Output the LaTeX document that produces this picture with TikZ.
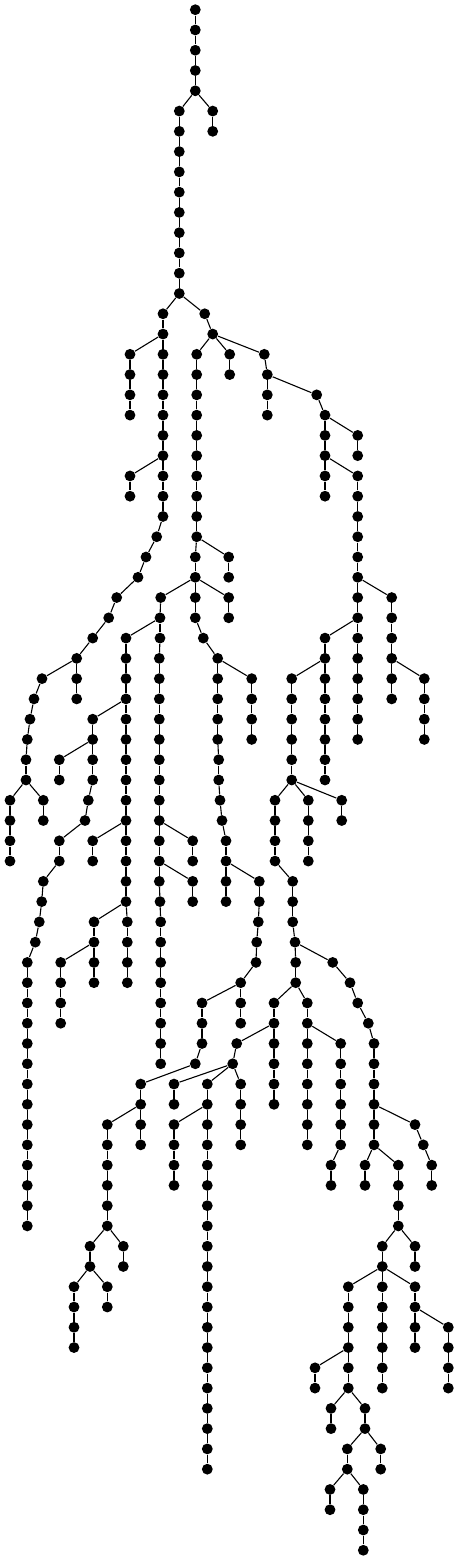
\documentclass[tikz,border=0pt]{standalone}
\usepackage{tikz}

\begin{document}
\begin{tikzpicture}[x=0.5pt,y=-10.135pt,
  vertex/.style={circle,fill=black,draw=none,inner sep=0pt,minimum size=5.4pt},
  link/.style={line width=0.55pt,black}]

  \useasboundingbox (0,-0.4786) rectangle (459,76.53);

  \foreach \lv/\row in {
    0/{195.3/0},
    1/{195.3/1},
    2/{195.3/1},
    3/{195.3/1},
    4/{195.3/1},
    5/{179.3/1,212.7/1},
    6/{179.3/1,212.7/2},
    7/{179.3/1},
    8/{179.3/1},
    9/{179.3/1},
    10/{179.3/1},
    11/{179.3/1},
    12/{179.3/1},
    13/{179.3/1},
    14/{179.3/1},
    15/{163/1,204.7/1},
    16/{163/1,212.7/2},
    17/{130/1,163/1,196.7/2,229.7/2,264.3/2},
    18/{130/1,163/2,196.7/3,229.7/4,267.3/5},
    19/{130/1,163/2,196.7/3,267.3/5,316.7/5},
    20/{130/1,163/2,196.7/3,267.3/4,325/5},
    21/{163/2,196.7/3,325/5,357.7/5},
    22/{163/1,196.7/2,325/3,357.7/4},
    23/{130/1,163/1,196.7/2,325/3,357.7/3},
    24/{130/1,163/2,196.7/3,325/4,357.7/5},
    25/{163/2,196.7/3,357.7/5},
    26/{156.7/1,196.7/2,357.7/3},
    27/{146/1,195.3/2,228.7/2,357.7/3},
    28/{138/1,195.3/2,228.7/3,357.7/4},
    29/{116.7/1,160.7/2,195.3/2,228.7/2,357.7/4,391.7/4},
    30/{108.7/1,160/2,195.3/3,228.7/4,357.7/5,391.7/6},
    31/{92.7/1,126/2,160/2,203.3/3,325/5,357.7/5,391.7/6},
    32/{76.7/1,126/2,159.3/3,217.7/4,325/5,357.7/6,391.7/7},
    33/{42/1,76.7/1,126/2,159.3/3,217.7/4,251.7/4,291.7/5,325/5,357.7/6,391.7/7,424.3/7},
    34/{34/1,76.7/2,126/3,159.3/4,217.7/5,251.7/6,291.7/7,325/8,357.7/9,391.7/10,424.3/11},
    35/{30/1,92.7/3,126/3,159.3/4,217.7/5,251.7/6,291.7/7,325/8,357.7/9,424.3/11},
    36/{27.3/1,92.7/2,126/3,159.3/4,217.7/5,251.7/6,291.7/7,325/8,357.7/9,424.3/10},
    37/{26/1,59.3/2,92.7/2,126/3,159.3/4,218.7/5,291.7/7,325/8},
    38/{26/1,59.3/2,92.7/3,126/4,159.3/5,218.7/6,291.7/7,325/8},
    39/{10/1,43.3/1,88.3/3,126/4,159.3/5,220/6,275/7,308.3/7,341.7/7},
    40/{10/1,43.3/2,85/3,126/4,159.3/5,222/6,275/7,308.3/8,341.7/9},
    41/{10/1,59.3/3,92.7/4,126/4,159.3/5,192.7/5,226/6,275/7,308.3/8},
    42/{10/1,59.3/2,92.7/3,126/4,159.3/5,192.7/6,226/7,275/8,308.3/9},
    43/{43.3/2,126/4,159.3/5,192.7/5,226/7,259.3/7,292.7/8},
    44/{41.7/1,126/2,160/3,192.7/4,226/5,259.3/6,292.7/7},
    45/{39.3/1,94/2,127.3/2,160.7/3,258.3/6,292.7/7},
    46/{35.3/1,94/2,127.3/3,160.7/4,256.7/5,295/6},
    47/{27.3/1,60.7/2,94/2,127.3/3,160.7/4,256/5,295.7/6,332.7/6},
    48/{27.3/1,60.7/2,94/3,127.3/4,160.7/5,240.7/6,295.7/7,350/8},
    49/{27.3/1,60.7/2,160.7/5,202/6,240.7/6,274/7,307.3/7,357.7/8},
    50/{27.3/1,60.7/2,160.7/3,202/4,240.7/5,274/6,307.3/7,368.3/8},
    51/{27.3/1,160.7/3,202/4,236.7/6,274/6,307.3/7,340.7/7,374/8},
    52/{27.3/1,160.7/2,195.3/3,232.7/4,274/5,307.3/6,340.7/7,374/8},
    53/{27.3/1,140.7/3,174/4,207.3/4,240.7/4,274/5,307.3/6,340.7/7,374/8},
    54/{27.3/1,140.7/2,174/3,207.3/4,240.7/5,274/6,307.3/7,340.7/8,374/9},
    55/{27.3/1,107.3/2,140.7/2,174/4,207.3/4,240.7/5,307.3/7,340.7/8,374/9,415/9},
    56/{27.3/1,107.3/2,140.7/3,174/4,207.3/5,240.7/6,307.3/7,340.7/8,374/9,423.3/10},
    57/{27.3/1,107.3/2,174/4,207.3/5,331/8,365/9,398.3/9,431.7/10},
    58/{27.3/1,107.3/2,174/3,207.3/4,331/5,365/6,398.3/7,431.7/8},
    59/{27.3/1,107.3/2,207.3/4,398.3/7},
    60/{27.3/1,107.3/2,207.3/3,398.3/4},
    61/{90/2,123.3/2,207.3/3,382.3/4,415/4},
    62/{90/1,123.3/2,207.3/3,382.3/4,415/5},
    63/{74/1,107.3/1,207.3/3,348.3/4,382.3/4,415/4},
    64/{74/1,107.3/2,207.3/3,348.3/4,382.3/5,415/6},
    65/{74/1,207.3/3,348.3/4,382.3/5,415/6,448.3/6},
    66/{74/1,207.3/2,348.3/3,382.3/4,415/5,448.3/6},
    67/{207.3/2,315/3,348.3/3,382.3/4,448.3/6},
    68/{207.3/1,315/2,348.3/3,382.3/4,448.3/5},
    69/{207.3/1,331/3,365/3},
    70/{207.3/1,331/2,365/3},
    71/{207.3/1,347.3/3,380.7/3},
    72/{207.3/1,347.3/2,380.7/3},
    73/{330/2,363.3/2},
    74/{330/1,363.3/2},
    75/{363.3/2},
    76/{363.3/1}}
  {
    \foreach \px/\p [count=\k] in \row {
      \node[vertex] (n\lv-\k) at (\px,\lv) {};
      \ifnum\lv>0
        \pgfmathtruncatemacro\up{\lv-1}
        \draw[link] (n\up-\p) -- (n\lv-\k);
      \fi
    }
  }
\end{tikzpicture}
\end{document}
